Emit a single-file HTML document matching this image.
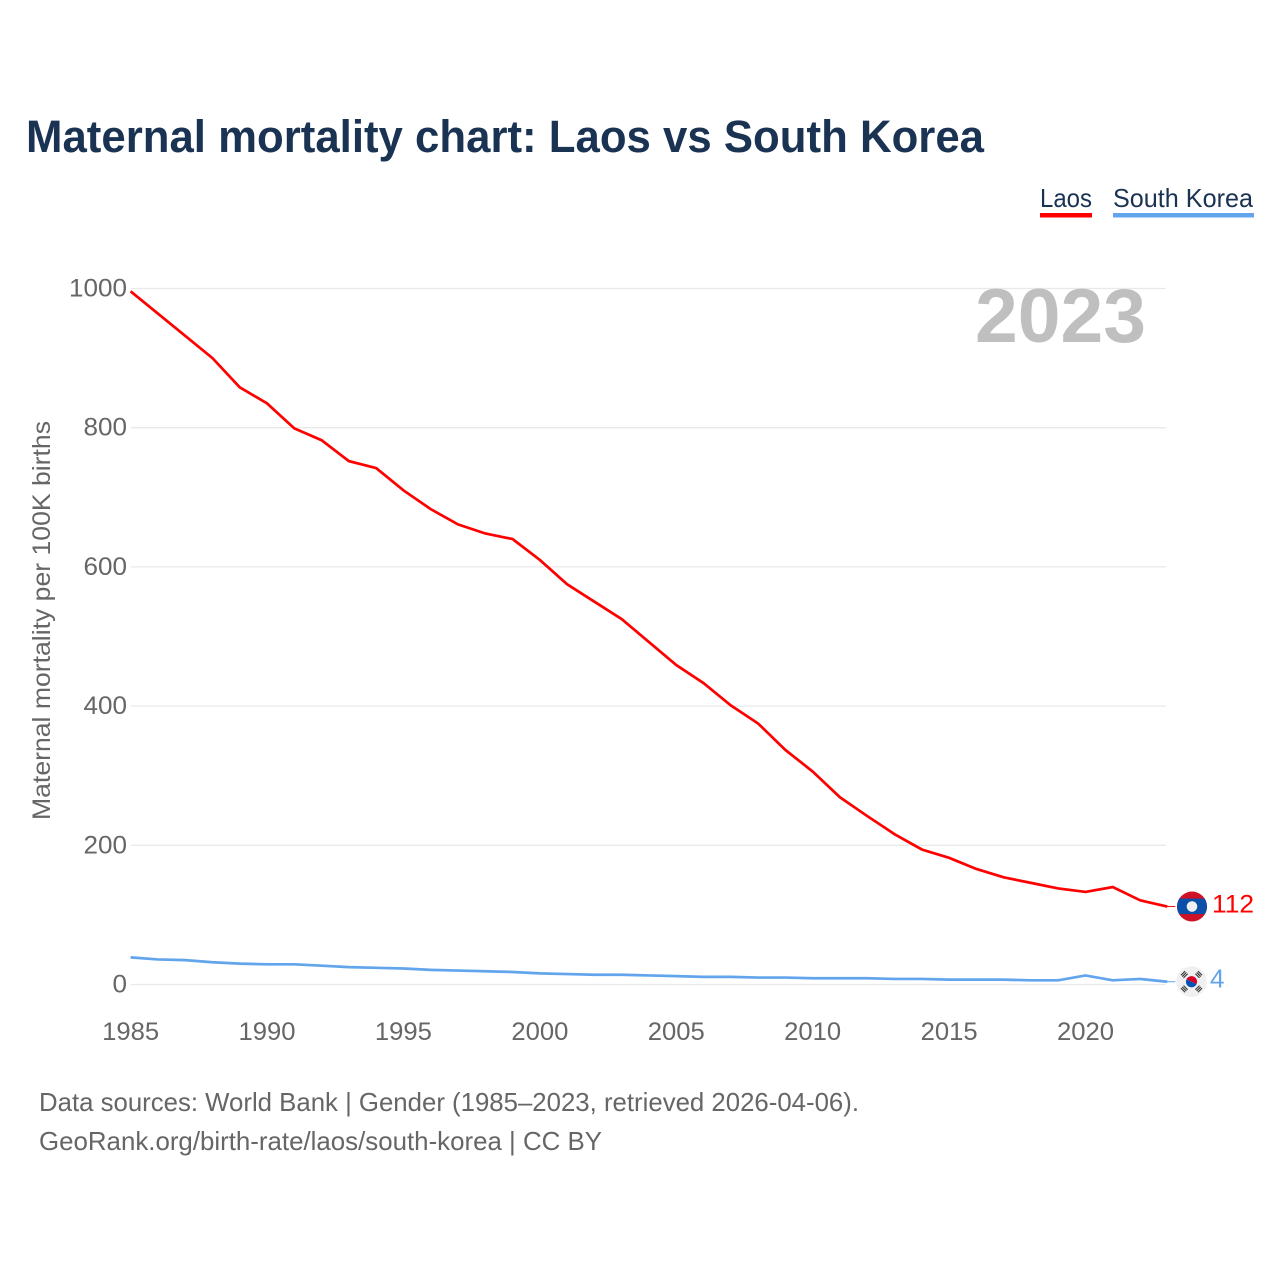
<!DOCTYPE html>
<html lang="en">
<head>
<meta charset="utf-8">
<title>Maternal mortality chart: Laos vs South Korea</title>
<style>
html,body{margin:0;padding:0;background:#fff;width:1280px;height:1280px;overflow:hidden}
svg{display:block;font-family:"Liberation Sans",sans-serif}
</style>
</head>
<body>
<svg id="chart" xmlns="http://www.w3.org/2000/svg" width="1280" height="1280" viewBox="0 0 1280 1280">
  <rect width="1280" height="1280" fill="#fff"/>
  <text x="26" y="152" font-size="45" font-weight="700" fill="#1a3353" textLength="958" lengthAdjust="spacingAndGlyphs">Maternal mortality chart: Laos vs South Korea</text>

  <g>
    <text x="1040" y="207" font-size="26" fill="#1a3353" textLength="52" lengthAdjust="spacingAndGlyphs">Laos</text>
    <rect x="1040" y="213" width="52" height="4.5" fill="#ff0000"/>
  </g>
  <g>
    <text x="1113" y="207" font-size="26" fill="#1a3353" textLength="140" lengthAdjust="spacingAndGlyphs">South Korea</text>
    <rect x="1113" y="213" width="141" height="4.5" fill="#62a5ec"/>
  </g>

  <text transform="translate(50,820) rotate(-90)" font-size="25" fill="#666" textLength="399" lengthAdjust="spacingAndGlyphs">Maternal mortality per 100K births</text>

  <g id="grid"></g>
  <g id="yticks"></g>
  <g id="xticks"></g>

  <text x="975" y="342" font-size="76" font-weight="700" fill="#bfbfbf" textLength="171" lengthAdjust="spacingAndGlyphs">2023</text>

  <g id="series"></g>

  <g id="flag-laos">
    <circle cx="0" cy="0" r="15" fill="#ce1126"/>
    <clipPath id="laos-clip"><circle cx="0" cy="0" r="15"/></clipPath>
    <rect x="-15" y="-8" width="30" height="15.5" fill="#0a4fa8" clip-path="url(#laos-clip)"/>
    <circle cx="0" cy="0" r="5.3" fill="#f0f0f0"/>
  </g>
  <g id="flag-korea">
    <circle cx="0" cy="0" r="15.3" fill="#f0f0f0"/>
    <g transform="rotate(25)">
      <path d="M-5.6,0 A5.6,5.6 0 0 1 5.6,0 Z" fill="#d80027"/>
      <path d="M-5.6,0 A5.6,5.6 0 0 0 5.6,0 Z" fill="#0052b4"/>
    </g>
    <g stroke="#333" stroke-width="1.1" fill="none">
      <path transform="rotate(-45)" d="M-2.9,-8.4 H2.9 M-2.9,-10.2 H2.9 M-2.9,-12 H2.9"/>
      <path transform="rotate(45)" d="M-2.9,-8.4 H2.9 M-2.9,-10.2 H2.9 M-2.9,-12 H2.9"/>
      <path transform="rotate(135)" d="M-2.9,-8.4 H2.9 M-2.9,-10.2 H2.9 M-2.9,-12 H2.9"/>
      <path transform="rotate(225)" d="M-2.9,-8.4 H2.9 M-2.9,-10.2 H2.9 M-2.9,-12 H2.9"/>
    </g>
  </g>
  <g id="end-labels"></g>

  <text x="39" y="1111" font-size="26" fill="#666" textLength="820" lengthAdjust="spacingAndGlyphs">Data sources: World Bank | Gender (1985–2023, retrieved 2026-04-06).</text>
  <text x="39" y="1150" font-size="26" fill="#666" textLength="563" lengthAdjust="spacingAndGlyphs">GeoRank.org/birth-rate/laos/south-korea | CC BY</text>
</svg>
<script>
const years = [1985,1986,1987,1988,1989,1990,1991,1992,1993,1994,1995,1996,1997,1998,1999,2000,2001,2002,2003,2004,2005,2006,2007,2008,2009,2010,2011,2012,2013,2014,2015,2016,2017,2018,2019,2020,2021,2022,2023];
const laos = [996,964,932,900,858,835,799,782,752,742,710,683,661,648,640,610,575,550,525,492,459,433,401,375,337,306,269,242,216,194,182,166,154,146,138,133,140,121,112];
const southKorea = [39,36,35,32,30,29,29,27,25,24,23,21,20,19,18,16,15,14,14,13,12,11,11,10,10,9,9,9,8,8,7,7,7,6,6,13,6,8,4];
const yTickValues = [0,200,400,600,800,1000];
const xTickValues = [1985,1990,1995,2000,2005,2010,2015,2020];

const NS = 'http://www.w3.org/2000/svg';
const xScale = function (year) { return 130.6 + (year - 1985) * (1085.5 - 130.6) / 35; };
const yScale = function (v) { return 984.5 - v * 0.696; };
const pathFor = function (values) {
  return values.map(function (v, i) {
    return (i ? 'L' : 'M') + xScale(years[i]).toFixed(2) + ',' + yScale(v).toFixed(2);
  }).join(' ');
};
const make = function (tag, parent) {
  const el = document.createElementNS(NS, tag);
  parent.appendChild(el);
  return el;
};

const gridGroup = document.getElementById('grid');
const yTickGroup = document.getElementById('yticks');
yTickValues.forEach(function (v) {
  const line = make('line', gridGroup);
  
  
  line.setAttribute('x1', 131);
  line.setAttribute('x2', 1166);
  line.setAttribute('y1', yScale(v));
  line.setAttribute('y2', yScale(v));
  line.setAttribute('stroke', '#e9e9e9');
  line.setAttribute('stroke-width', '1.3');

  const label = make('text', yTickGroup);
  
  
  label.setAttribute('x', 127);
  label.setAttribute('y', yScale(v) + 8);
  label.setAttribute('text-anchor', 'end');
  label.setAttribute('font-size', '25');
  label.setAttribute('fill', '#666');
  label.setAttribute('textLength', String(v).length * 14.5);
  label.setAttribute('lengthAdjust', 'spacingAndGlyphs');
  label.textContent = v;
});

const xTickGroup = document.getElementById('xticks');
xTickValues.forEach(function (yr) {
  const label = make('text', xTickGroup);
  
  
  label.setAttribute('x', xScale(yr));
  label.setAttribute('y', 1040);
  label.setAttribute('text-anchor', 'middle');
  label.setAttribute('font-size', '25');
  label.setAttribute('fill', '#666');
  label.setAttribute('textLength', '57');
  label.setAttribute('lengthAdjust', 'spacingAndGlyphs');
  label.textContent = yr;
});

const seriesGroup = document.getElementById('series');
const labelGroup = document.getElementById('end-labels');

const lineKorea = make('path', seriesGroup);


lineKorea.setAttribute('d', pathFor(southKorea));
lineKorea.setAttribute('fill', 'none');
lineKorea.setAttribute('stroke', '#62a5ec');
lineKorea.setAttribute('stroke-width', '2.7');

const lineLaos = make('path', seriesGroup);


lineLaos.setAttribute('d', pathFor(laos));
lineLaos.setAttribute('fill', 'none');
lineLaos.setAttribute('stroke', '#ff0000');
lineLaos.setAttribute('stroke-width', '2.7');

const lastLaos = laos[laos.length - 1];
const lastKorea = southKorea[southKorea.length - 1];
const endX = xScale(years[years.length - 1]);

const connLaos = make('line', seriesGroup);


connLaos.setAttribute('x1', endX);
connLaos.setAttribute('x2', endX + 8);
connLaos.setAttribute('y1', yScale(lastLaos));
connLaos.setAttribute('y2', yScale(lastLaos));
connLaos.setAttribute('stroke', '#ff0000');
connLaos.setAttribute('stroke-width', '1');

const connKorea = make('line', seriesGroup);


connKorea.setAttribute('x1', endX);
connKorea.setAttribute('x2', endX + 8);
connKorea.setAttribute('y1', yScale(lastKorea));
connKorea.setAttribute('y2', yScale(lastKorea));
connKorea.setAttribute('stroke', '#62a5ec');
connKorea.setAttribute('stroke-width', '1');

document.getElementById('flag-laos').setAttribute('transform', 'translate(1192,' + yScale(lastLaos) + ')');
document.getElementById('flag-korea').setAttribute('transform', 'translate(1191.5,' + yScale(lastKorea) + ')');

const valueLaos = make('text', labelGroup);


valueLaos.setAttribute('x', 1212);
valueLaos.setAttribute('y', yScale(lastLaos) + 6);
valueLaos.setAttribute('font-size', '25');
valueLaos.setAttribute('fill', '#ff0000');
valueLaos.setAttribute('textLength', '42');
valueLaos.setAttribute('lengthAdjust', 'spacingAndGlyphs');
valueLaos.textContent = lastLaos;

const valueKorea = make('text', labelGroup);


valueKorea.setAttribute('x', 1210);
valueKorea.setAttribute('y', yScale(lastKorea) + 6);
valueKorea.setAttribute('font-size', '26');
valueKorea.setAttribute('fill', '#62a5ec');
valueKorea.textContent = lastKorea;
</script>
</body>
</html>
